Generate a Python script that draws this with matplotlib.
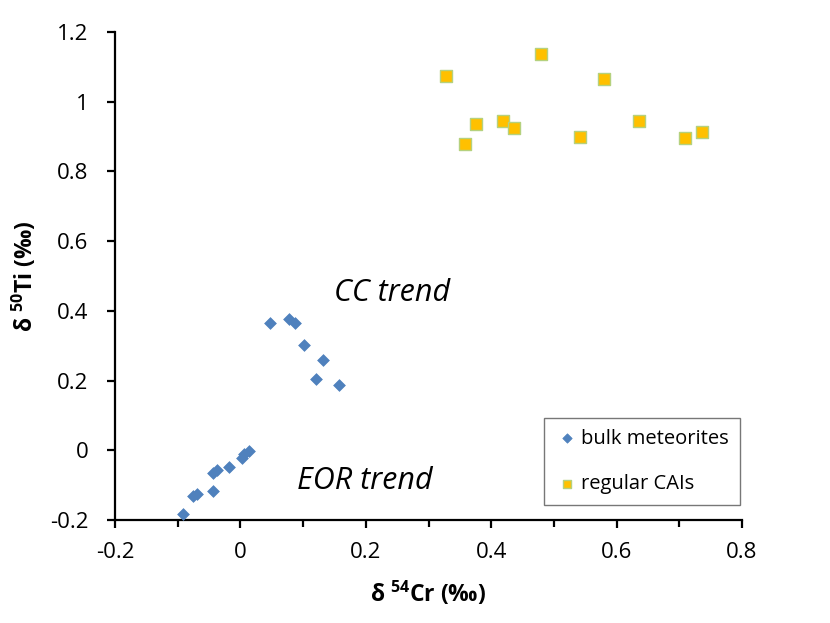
import numpy as np
import matplotlib
matplotlib.use('Agg')
import matplotlib.pyplot as plt
from matplotlib.ticker import MultipleLocator

# font setup (Calibri-like look)
plt.rcParams['font.family'] = ['Open Sans', 'DejaVu Sans']
plt.rcParams['mathtext.fontset'] = 'custom'
plt.rcParams['mathtext.rm'] = 'Open Sans'
plt.rcParams['mathtext.bf'] = 'Open Sans:bold'

# bulk meteorites: d54Cr, d50Ti (permil)
bulk_cr = [0.047, 0.077, 0.087, 0.102, 0.131, 0.120, 0.157,
           0.014, 0.006, 0.002, -0.018, -0.038, -0.044, -0.044,
           -0.069, -0.076, -0.091]
bulk_ti = [0.364, 0.378, 0.366, 0.301, 0.260, 0.205, 0.186,
           -0.002, -0.012, -0.021, -0.048, -0.057, -0.066, -0.117,
           -0.124, -0.131, -0.183]

# regular CAIs
cai_cr = [0.328, 0.480, 0.580, 0.376, 0.419, 0.436, 0.359,
          0.541, 0.636, 0.709, 0.736]
cai_ti = [1.074, 1.138, 1.066, 0.937, 0.945, 0.925, 0.880,
          0.898, 0.945, 0.897, 0.913]

x_ticks = [-0.2, 0, 0.2, 0.4, 0.6, 0.8]
x_labels = ['-0.2', '0', '0.2', '0.4', '0.6', '0.8']
y_ticks = [-0.2, 0, 0.2, 0.4, 0.6, 0.8, 1.0, 1.2]
y_labels = ['-0.2', '0', '0.2', '0.4', '0.6', '0.8', '1', '1.2']

fig = plt.figure(figsize=(8.3, 6.23), dpi=100)
ax = fig.add_axes([115/830, 1 - 520/623, (742 - 115)/830, (520 - 32)/623])

ax.scatter(bulk_cr, bulk_ti, marker='D', s=36, color='#4F81BD',
           edgecolors='#4F81BD', linewidths=0.5, label='bulk meteorites',
           zorder=3)
ax.scatter(cai_cr, cai_ti, marker='s', s=64, color='#FFC000',
           edgecolors='#B5D17E', linewidths=1.0, label='regular CAIs',
           zorder=3)

ax.set_xlim(-0.2, 0.8)
ax.set_ylim(-0.2, 1.2)
ax.set_xticks(x_ticks)
ax.set_xticklabels(x_labels)
ax.xaxis.set_minor_locator(MultipleLocator(0.1))
ax.set_yticks(y_ticks)
ax.set_yticklabels(y_labels)

for side in ['top', 'right']:
    ax.spines[side].set_visible(False)
for side in ['left', 'bottom']:
    ax.spines[side].set_linewidth(1.6)
ax.tick_params(which='major', direction='out', length=6, width=1.6,
               labelsize=16)
ax.tick_params(which='minor', direction='out', length=5, width=1.6)
ax.tick_params(axis='x', which='major', pad=10)
ax.tick_params(axis='y', which='major', pad=13)

ax.set_xlabel(r'δ $^{\mathbf{54}}$Cr (‰)', fontsize=16.5, fontweight='bold')
ax.set_ylabel(r'δ $^{\mathbf{50}}$Ti (‰)', fontsize=16.5, fontweight='bold')
ax.xaxis.set_label_coords(0.5, -0.122)
ax.yaxis.set_label_coords(-0.122, 0.5)

ax.text(0.242, 0.45, 'CC trend', fontsize=22, style='italic',
        ha='center', va='center')
ax.text(0.199, -0.088, 'EOR trend', fontsize=22, style='italic',
        ha='center', va='center')

leg = ax.legend(loc='lower right', bbox_to_anchor=(0.997, 0.031),
                fontsize=14.5, frameon=True, fancybox=False,
                edgecolor='#555555', labelspacing=1.25, handletextpad=0.1,
                handlelength=1.2, borderpad=0.55, borderaxespad=0,
                markerscale=0.8)
leg.get_frame().set_linewidth(1.0)

fig.savefig('out.png', dpi=100)
